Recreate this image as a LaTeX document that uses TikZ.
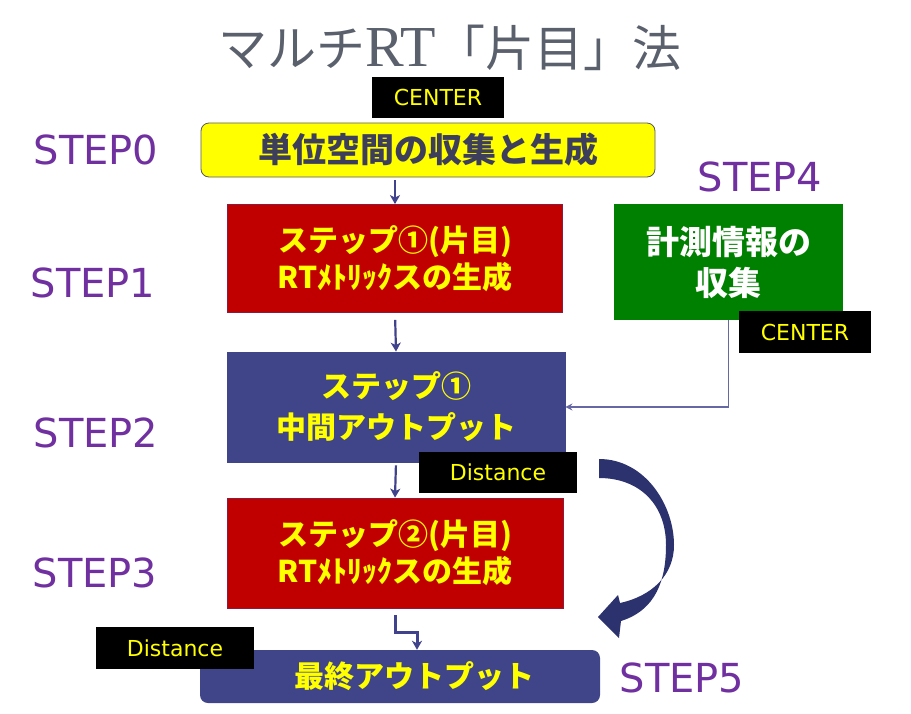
\documentclass[tikz,border=0pt]{standalone}
\usepackage{fontspec}
\setmainfont{DejaVu Sans}
\newfontfamily\jp{Noto Sans CJK JP}
\newfontfamily\serifrt{Liberation Serif}
\usetikzlibrary{arrows.meta}

\definecolor{stepviolet}{RGB}{112,48,160}
\definecolor{boxred}{RGB}{192,0,0}
\definecolor{boxgreen}{RGB}{0,128,0}
\definecolor{boxblue}{RGB}{64,68,136}
\definecolor{flownavy}{RGB}{64,66,140}
\definecolor{curvenavy}{RGB}{44,50,110}
\definecolor{titlegray}{RGB}{90,96,108}
\definecolor{textyellow}{RGB}{255,255,0}
\definecolor{darkink}{RGB}{60,62,92}
\definecolor{boxyellow}{RGB}{255,255,0}

\tikzset{
  steplabel/.style={text=stepviolet, inner sep=0pt,
    font=\fontsize{40}{44}\selectfont},
  tagbox/.style={fill=black, text=textyellow, inner sep=0pt,
    minimum width=132pt, minimum height=41pt,
    font=\fontsize{22}{24}\selectfont},
  distbox/.style={tagbox, minimum width=158pt},
  redbox/.style={fill=boxred, draw=boxred!60!flownavy, line width=0.8pt,
    text=textyellow, align=center, inner sep=0pt,
    minimum width=335pt, minimum height=108pt,
    font=\jp\bfseries\fontsize{30}{37}\selectfont},
  bluebox/.style={redbox, fill=boxblue, draw=boxblue,
    font=\jp\bfseries\fontsize{30}{41}\selectfont},
  flow/.style={draw=flownavy, line width=2.2pt,
    -{Stealth[length=9pt,width=10pt,inset=2.5pt]}},
  link/.style={draw=flownavy!80, line width=1.5pt,
    -{Stealth[length=7pt,width=7pt]}},
}

\begin{document}
\begin{tikzpicture}[x=1pt, y=-1pt]
  \useasboundingbox (0,0) rectangle (911,713);

  % title
  \node[text=titlegray, inner sep=0pt] (title) at (450,48)
    {\fontsize{49}{56}\selectfont\jp マルチ{\serifrt\fontsize{58}{60}\selectfont RT}「片目」法};

  % step labels
  \node[steplabel] (s0) at (96,150) {STEP0};
  \node[steplabel] (s1) at (93,283) {STEP1};
  \node[steplabel] (s2) at (96,433) {STEP2};
  \node[steplabel] (s3) at (95,573) {STEP3};
  \node[steplabel] (s4) at (760,177) {STEP4};
  \node[steplabel] (s5) at (682,678) {STEP5};

  % boxes
  \node[fill=boxyellow, draw=black!65, line width=0.8pt, rounded corners=8pt,
        minimum width=454pt, minimum height=54pt, inner sep=0pt,
        text=darkink, font=\jp\bfseries\fontsize{34}{40}\selectfont]
        (unit) at (428,150) {単位空間の収集と生成};

  \node[redbox] (rt1) at (395,258.5) {ステップ①(片目)\\RTﾒﾄﾘｯｸスの生成};

  \node[fill=boxgreen, text=white, align=center, inner sep=0pt,
        minimum width=229pt, minimum height=116pt,
        font=\jp\bfseries\fontsize{33}{41}\selectfont]
        (meas) at (728.5,262) {計測情報の\\収集};

  \node[bluebox, minimum width=338pt, minimum height=110pt]
        (mid) at (396,407) {ステップ①\\中間アウトプット};

  \node[redbox, minimum width=336pt, minimum height=110pt]
        (rt2) at (395,553) {ステップ②(片目)\\RTﾒﾄﾘｯｸスの生成};

  \node[fill=boxblue, rounded corners=8pt, inner sep=0pt,
        minimum width=400pt, minimum height=53pt] (final) at (400,676.5) {};
  \node[text=textyellow, inner sep=0pt,
        font=\jp\bfseries\fontsize{30}{36}\selectfont]
        (finaltext) at (414,676) {最終アウトプット};

  % black tags
  \node[tagbox] (c1) at (438,97.5) {CENTER};
  \node[tagbox, minimum height=42pt] (c2) at (805,332) {CENTER};
  \node[distbox] (d1) at (498,472) {Distance};
  \node[distbox, minimum height=42pt] (d2) at (175,648) {Distance};

  % straight connectors
  \draw[flow, shorten <=3pt] (unit.south -| rt1.north) -- (rt1.north);
  \draw[flow, shorten <=7pt] (rt1.south) -- (mid.north);
  \draw[flow, shorten <=3pt] (mid.south) -- (rt2.north);
  \draw[link] (meas.south) |- (mid.east);

  % bent connector into the final box
  \coordinate (bendmid) at (417,632);
  \draw[flow, line width=3pt, shorten <=7pt] (rt2.south) |- (bendmid) -- (bendmid |- final.north);

  % curved feedback arrow
  \fill[curvenavy]
    (599,459) .. controls (645,459) and (674,505) .. (674,545)
    .. controls (674,575) and (652,596) .. (620,603)
    -- (618,595) -- (598,617) -- (619,638) -- (621,621)
    .. controls (656,610) and (666,580) .. (666,545)
    .. controls (666,505) and (640,478) .. (599,478) -- cycle;
\end{tikzpicture}
\end{document}
